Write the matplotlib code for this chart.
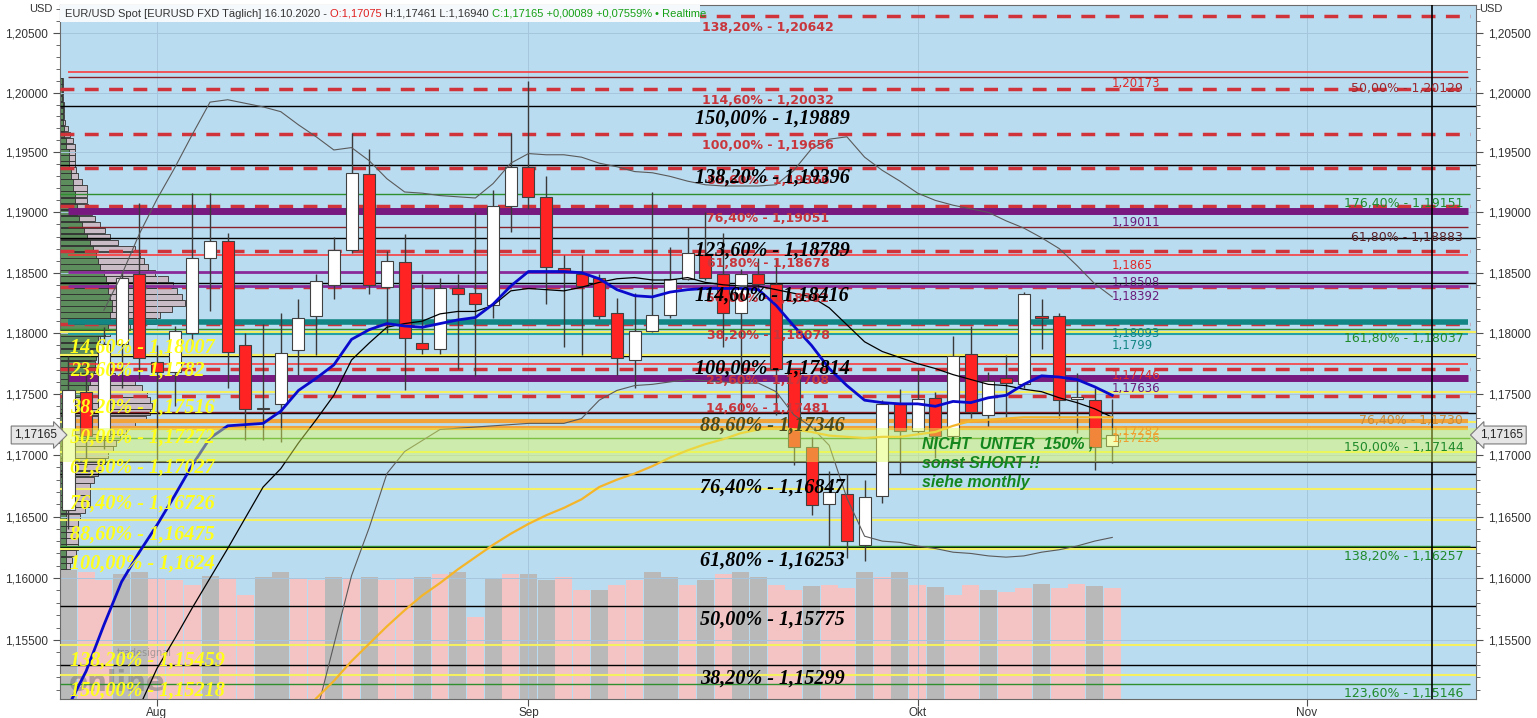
import numpy as np
import matplotlib
matplotlib.use("Agg")
import matplotlib.pyplot as plt
from matplotlib.ticker import FixedLocator, FuncFormatter, NullFormatter
from matplotlib.transforms import blended_transform_factory

# --- daily EUR/USD bars 27.07.2020 - 16.10.2020 (index 0 = 03.08.2020) ---
bar_idx = list(range(-5, 55))
opens = [1.1655, 1.1752, 1.1716, 1.1791, 1.1849,
         1.1776, 1.1768, 1.1800, 1.1862, 1.1876, 1.1790, 1.1738, 1.1742, 1.1786, 1.1814,
         1.1840, 1.1869, 1.1932, 1.1838, 1.1859, 1.1792, 1.1787, 1.1837, 1.1833, 1.1823,
         1.1905, 1.1938, 1.1913, 1.1854, 1.1849, 1.1846, 1.1817, 1.1778, 1.1802, 1.1815,
         1.1845, 1.1865, 1.1849, 1.1817, 1.1849, 1.1841, 1.1771, 1.1707, 1.1660, 1.1668,
         1.1627, 1.1667, 1.1742, 1.1720, 1.1747, 1.1716, 1.1783, 1.1733, 1.1763, 1.1758,
         1.1814, 1.1814, 1.1746, 1.1745, 1.17075]
highs = [1.1781, 1.1776, 1.1805, 1.1850, 1.1908,
         1.1790, 1.1806, 1.1916, 1.1916, 1.1883, 1.1800, 1.1808, 1.1817, 1.1828, 1.1849,
         1.1880, 1.1966, 1.1953, 1.1868, 1.1882, 1.1849, 1.1846, 1.1849, 1.1900, 1.1919,
         1.1966, 1.2010, 1.1930, 1.1865, 1.1865, 1.1849, 1.1829, 1.1833, 1.1917, 1.1871,
         1.1888, 1.1900, 1.1883, 1.1853, 1.1862, 1.1862, 1.1771, 1.1715, 1.1687, 1.1685,
         1.1680, 1.1745, 1.1754, 1.1770, 1.1752, 1.1798, 1.1806, 1.1768, 1.1782, 1.1834,
         1.1828, 1.1817, 1.1767, 1.1755, 1.17461]
lows = [1.1640, 1.1690, 1.1705, 1.1755, 1.1762,
        1.1696, 1.1740, 1.1790, 1.1818, 1.1755, 1.1712, 1.1712, 1.1711, 1.1766, 1.1782,
        1.1828, 1.1866, 1.1832, 1.1800, 1.1753, 1.1783, 1.1783, 1.1771, 1.1765, 1.1813,
        1.1884, 1.1903, 1.1824, 1.1789, 1.1782, 1.1812, 1.1766, 1.1755, 1.1801, 1.1813,
        1.1844, 1.1844, 1.1789, 1.1735, 1.1835, 1.1733, 1.1692, 1.1651, 1.1626, 1.1616,
        1.1614, 1.1661, 1.1685, 1.1718, 1.1698, 1.1710, 1.1730, 1.1724, 1.1731, 1.1755,
        1.1787, 1.1730, 1.1718, 1.1688, 1.16940]
closes = [1.1753, 1.1716, 1.1791, 1.1846, 1.1780,
          1.1768, 1.1802, 1.1862, 1.1876, 1.1785, 1.1738, 1.1739, 1.1784, 1.1813, 1.1843,
          1.1869, 1.1933, 1.1840, 1.1860, 1.1796, 1.1787, 1.1837, 1.1832, 1.1824, 1.1905,
          1.1938, 1.1913, 1.1855, 1.1851, 1.1839, 1.1814, 1.1780, 1.1802, 1.1815, 1.1845,
          1.1866, 1.1846, 1.1817, 1.1849, 1.1841, 1.1771, 1.1707, 1.1659, 1.1670, 1.1630,
          1.1666, 1.1742, 1.1720, 1.1746, 1.1716, 1.1781, 1.1735, 1.1761, 1.1759, 1.1832,
          1.1813, 1.1745, 1.1748, 1.1707, 1.17165]
volume = [129, 127, 119, 125, 127,
          121, 119, 114, 123, 121, 104, 122, 127, 121, 119,
          122, 121, 122, 119, 121, 122, 125, 127, 82, 121,
          125, 125, 119, 122, 109, 109, 114, 119, 127, 122,
          114, 119, 125, 127, 122, 114, 109, 113, 114, 111,
          127, 122, 127, 114, 112, 104, 114, 109, 107, 111,
          115, 111, 115, 113, 111]
volume_pink = [0, 1, 1, 0, 0,
               1, 1, 1, 0, 1, 1, 0, 0, 1, 1,
               0, 1, 0, 1, 1, 0, 1, 0, 1, 0,
               1, 0, 0, 1, 1, 0, 1, 1, 0, 0,
               1, 0, 1, 0, 0, 1, 1, 0, 1, 1,
               0, 1, 0, 1, 0, 1, 1, 0, 1, 1,
               0, 1, 1, 0, 1]

nan = np.nan
ma_blue = [1.1497, 1.1525, 1.1562, 1.1597, 1.1621,
           1.1643, 1.1667, 1.1692, 1.1714, 1.1724, 1.1725, 1.1726, 1.1736, 1.1753, 1.1763,
           1.1774, 1.1795, 1.1803, 1.1808, 1.1806, 1.1805, 1.1808, 1.1811, 1.1813, 1.1824,
           1.1839, 1.1851, 1.1851, 1.1851, 1.1850, 1.1845, 1.1836, 1.1831, 1.1830, 1.1834,
           1.1836, 1.1837, 1.1837, 1.1837, 1.1836, 1.1823, 1.1806, 1.1790, 1.1771, 1.1757,
           1.1745, 1.1743, 1.1742, 1.1742, 1.1740, 1.1744, 1.1743, 1.1747, 1.1749, 1.1758,
           1.1765, 1.1764, 1.1762, 1.1756, 1.1749]
ma_black = [nan, nan, nan, nan, 1.1496,
            1.1527, 1.1551, 1.1576, 1.1600, 1.1624, 1.1649, 1.1674, 1.1689, 1.1710, 1.1729,
            1.1749, 1.1778, 1.1792, 1.1805, 1.1808, 1.1810, 1.1816, 1.1818, 1.1818, 1.1823,
            1.1835, 1.1837, 1.1836, 1.1835, 1.1838, 1.1842, 1.1845, 1.1846, 1.1844, 1.1844,
            1.1846, 1.1842, 1.1840, 1.1839, 1.1839, 1.1836, 1.1833, 1.1830, 1.1821, 1.1807,
            1.1793, 1.1785, 1.1780, 1.1775, 1.1771, 1.1766, 1.1762, 1.1758, 1.1757, 1.1754,
            1.1752, 1.1747, 1.1743, 1.1738, 1.1731]
bb_upper = [nan, nan, 1.1819, 1.1848, 1.1882,
            1.1911, 1.1937, 1.1965, 1.1992, 1.1994, 1.1991, 1.1988, 1.1984, 1.1973, 1.1963,
            1.1952, 1.1954, 1.1943, 1.1928, 1.1917, 1.1916, 1.1914, 1.1913, 1.1912, 1.1924,
            1.1941, 1.1949, 1.1948, 1.1948, 1.1946, 1.1941, 1.1938, 1.1934, 1.1933, 1.1930,
            1.1926, 1.1923, 1.1922, 1.1922, 1.1922, 1.1923, 1.1935, 1.1953, 1.1961, 1.1963,
            1.1946, 1.1935, 1.1926, 1.1916, 1.1910, 1.1906, 1.1903, 1.1900, 1.1893, 1.1887,
            1.1879, 1.1870, 1.1856, 1.1841, 1.1830]
bb_lower = [nan, nan, nan, nan, nan,
            nan, nan, nan, nan, nan, nan, nan, nan, nan, 1.1490,
            1.1546, 1.1602, 1.1641, 1.1685, 1.1703, 1.1712, 1.1721, 1.1722, 1.1723, 1.1724,
            1.1725, 1.1726, 1.1726, 1.1726, 1.1730, 1.1745, 1.1753, 1.1757, 1.1758, 1.1760,
            1.1762, 1.1761, 1.1760, 1.1759, 1.1759, 1.1752, 1.1733, 1.1723, 1.1708, 1.1665,
            1.1634, 1.1630, 1.1629, 1.1626, 1.1624, 1.1621, 1.1620, 1.1618, 1.1617, 1.1618,
            1.1621, 1.1623, 1.1626, 1.1630, 1.1633]
ma_orange = [nan, nan, nan, nan, nan,
             nan, nan, nan, nan, nan, nan, nan, nan, 1.1488, 1.1503,
             1.1517, 1.1533, 1.1547, 1.1561, 1.1574, 1.1586, 1.1596, 1.1607, 1.1617, 1.1627,
             1.1636, 1.1644, 1.1651, 1.1657, 1.1664, 1.1674, 1.1680, 1.1685, 1.1691, 1.1698,
             1.1704, 1.1709, 1.1713, 1.1718, 1.1721, 1.1723, 1.1721, 1.1719, 1.1716, 1.1715,
             1.1714, 1.1715, 1.1715, 1.1717, 1.1719, 1.1724, 1.1728, 1.1729, 1.1730, 1.1731,
             1.1731, 1.1731, 1.1731, 1.1731, 1.1731]

# volume profile (price bins, total and buy part)
profile_price = np.round(np.arange(1.2010, 1.16095, -0.0005), 4)
profile_total = [3, 3, 3, 3, 4, 4, 4, 5, 8, 10, 13, 15, 15, 15, 15, 16, 18, 22, 27, 27,
                 27, 28, 32, 35, 40, 45, 50, 58, 75, 80, 84, 88, 95, 108, 113, 117, 122, 125, 112, 100,
                 96, 70, 50, 40, 36, 33, 31, 30, 36, 55, 75, 82, 87, 90, 92, 90, 86, 75, 66, 60,
                 56, 53, 48, 45, 42, 38, 34, 30, 30, 30, 30, 25, 20, 18, 18, 18, 18, 18, 16, 12, 10]
profile_green = [2, 2, 2, 2, 3, 3, 3, 3, 4, 4, 6, 6, 9, 9, 9, 11, 11, 13, 13, 15,
                 15, 17, 17, 19, 22, 24, 27, 30, 33, 36, 38, 40, 44, 46, 48, 48, 50, 52, 52, 50,
                 50, 48, 45, 38, 38, 37, 36, 35, 34, 33, 30, 28, 20, 12, 10, 10, 10, 8, 8, 8,
                 8, 6, 6, 6, 6, 6, 6, 6, 6, 6, 6, 6, 6, 6, 6, 6, 6, 6, 6, 6, 6]

# fibonacci sets
red_fib = [1.20642, 1.20032, 1.19656, 1.19366, 1.19051, 1.18678, 1.18382, 1.18078, 1.17708, 1.17481]
red_pct = ["138,20%", "114,60%", "100,00%", "88,60%", "76,40%", "61,80%", "50,00%", "38,20%", "23,60%", "14,60%"]
black_fib = [1.19889, 1.19396, 1.18789, 1.18416, 1.17814, 1.17346, 1.16847, 1.16253, 1.15775, 1.15299]
black_pct = ["150,00%", "138,20%", "123,60%", "114,60%", "100,00%", "88,60%", "76,40%", "61,80%", "50,00%", "38,20%"]
yellow_fib = [1.18007, 1.1782, 1.17516, 1.17272, 1.17027, 1.16726, 1.16475, 1.1624, 1.15459, 1.15218]
yellow_pct = ["14,60%", "23,60%", "38,20%", "50,00%", "61,80%", "76,40%", "88,60%", "100,00%", "138,20%", "150,00%"]
green_fib = [1.19151, 1.18037, 1.17144, 1.16257, 1.15146]
green_pct = ["176,40%", "161,80%", "150,00%", "138,20%", "123,60%"]

# hand drawn levels
red_levels = [1.20173, 1.1865, 1.17746]
darkred_levels = [1.20129, 1.18883, 1.17355]
purple_thick = [1.19011, 1.17636]
purple_thin = [1.18508, 1.18392]
teal_levels = [1.18093, 1.1799]
orange_levels = [1.17282, 1.17226]
zone = (1.16945, 1.17226)
last_price = 1.17165
cursor_x = 72.1

month_pos = [0, 21, 43, 65]
month_lab = ["Aug", "Sep", "Okt", "Nov"]

# ------------------------------------------------------------------
W, H = 1537, 718
fig = plt.figure(figsize=(W / 100, H / 100), dpi=100)
fig.patch.set_facecolor("white")
rect = [60 / W, 19 / H, 1416 / W, 694 / H]

ax_v = fig.add_axes(rect)
ax = fig.add_axes(rect, sharex=ax_v)
ax_p = fig.add_axes(rect, sharey=ax)
ax_v.set_zorder(1)
ax_p.set_zorder(2)
ax.set_zorder(3)
ax.patch.set_visible(False)
ax_p.patch.set_visible(False)
ax_v.set_facecolor("#badcf0")

x = np.array(bar_idx)
o, h, l, c = map(np.array, (opens, highs, lows, closes))

# volume
vcol = ["#f4c4c4" if p else "#b9b9b9" for p in volume_pink]
ax_v.bar(x, volume, width=0.96, color=vcol, zorder=1)
ax_v.set_ylim(0, 694)
ax_v.set_xlim(-5.48, 74.56)
for s in ax_v.spines.values():
    s.set_visible(False)
ax_v.tick_params(left=False, labelleft=False, bottom=False, labelbottom=False)

# volume profile
ax_p.set_xlim(0, 1416)
ax_p.barh(profile_price, profile_total, height=0.00048, left=0, color="#c9bcc6",
          edgecolor="#303030", linewidth=0.6)
ax_p.barh(profile_price, profile_green, height=0.00048, left=0, color="#5d8d5d",
          edgecolor="#303030", linewidth=0.6)
ax_p.axis("off")

# price axis
ax.set_yscale("log")
ax.set_ylim(1.15025, 1.20736)
ax.set_xlim(-5.48, 74.56)
ax.set_axisbelow(True)
ax.grid(True, color="#a6c6de", lw=0.7)

L0, L1 = -5.0, 74.1
lkw = dict(xmin=L0, xmax=L1)
ax.hlines(black_fib, -5.48, 74.56, color="black", lw=1, zorder=3)
ax.hlines(yellow_fib, -5.48, 74.56, color="#f4f060", lw=1.5, zorder=3)
ax.hlines(green_fib, -5.48, 74.2, color="#2f8f2f", lw=1, zorder=3)
ax.hlines(red_fib, -5.48, 74.2, color="#d0343a", lw=2.5, linestyles=(0, (4, 3)), zorder=3)
ax.hlines(red_levels, color="#ff3030", lw=1.1, zorder=3, **lkw)
ax.hlines(darkred_levels, color="#8a2028", lw=1, zorder=3, **lkw)
ax.hlines(purple_thick, color="#77197f", lw=5, zorder=3, **lkw)
ax.hlines(purple_thin, color="#8a2a9a", lw=2, zorder=3, **lkw)
ax.hlines(teal_levels[0], color="#128585", lw=4, zorder=3, **lkw)
ax.hlines(teal_levels[1], color="#22a0a6", lw=1.5, zorder=3, **lkw)
ax.hlines(orange_levels, color="#f2a43a", lw=3, zorder=3, **lkw)
ax.hlines(zone[0], -5.48, 74.56, color="#404040", lw=1.5, zorder=3)
ax.axvline(cursor_x, color="black", lw=1.2, zorder=3)

# candles
up = c >= o
body_lo = np.minimum(o, c)
body_h = np.maximum(np.abs(c - o), 0.00004)
ax.vlines(x, l, h, color="#3a3a3a", lw=1, zorder=4)
ax.bar(x, body_h, bottom=body_lo, width=0.68,
       color=np.where(up, "#ffffff", "#ff2323"), edgecolor="#404040", lw=0.8, zorder=5)

# indicators
ax.plot(x, bb_upper, color="#5a5a5a", lw=0.8, zorder=6)
ax.plot(x, bb_lower, color="#5a5a5a", lw=0.8, zorder=6)
ax.plot(x, ma_black, color="black", lw=0.9, zorder=6)
ax.plot(x, ma_orange, color="#f5b52a", lw=1.6, zorder=6)
ax.plot(x, ma_blue, color="#0a0acc", lw=2, zorder=6)

# shaded zone over everything
ax.axhspan(zone[0], zone[1], color="#e2ff5a", alpha=0.45, lw=0, zorder=7)

# axis ticks
ax.yaxis.set_major_locator(FixedLocator([1.155, 1.16, 1.165, 1.17, 1.175, 1.18, 1.185,
                                         1.19, 1.195, 1.2, 1.205]))
ax.yaxis.set_major_formatter(FuncFormatter(lambda v, p: f"{v:.5f}".replace(".", ",")))
ax.yaxis.set_minor_locator(FixedLocator(np.arange(1.151, 1.2075, 0.001)))
ax.yaxis.set_minor_formatter(NullFormatter())
ax.tick_params(axis="y", which="both", left=True, right=True, labelleft=True,
               labelright=True, direction="out", colors="#505050", labelcolor="#333333",
               labelsize=8.5)
ax.tick_params(axis="y", which="major", length=5)
ax.tick_params(axis="y", which="minor", length=3)
ax.set_xticks(month_pos)
ax.set_xticklabels(month_lab)
ax.tick_params(axis="x", length=5, colors="#505050", labelcolor="#333333", labelsize=8.5, pad=1)
for lab in ax.get_yticklabels():
    lab.set_family("Liberation Sans")
for lab in ax.get_xticklabels():
    lab.set_family("Liberation Sans")
for s in ax.spines.values():
    s.set_color("#6a6a6a")

# labels
tr = blended_transform_factory(ax.transAxes, ax.transData)


def fmt(v):
    return f"{v}".replace(".", ",")


def lab(xf, yv, s, dy, **kw):
    ax.annotate(s, (xf, yv), xycoords=tr, xytext=(0, dy), textcoords="offset points",
                va="center", zorder=8, annotation_clip=False, **kw)


for v, p in zip(red_fib, red_pct):
    lab(0.50, v, f"{p} - {fmt(v)}", -8.5, ha="center", color="#c8363c", fontsize=9,
        fontweight="bold", family="DejaVu Sans")
for v, p in zip(black_fib, black_pct):
    col = "#4c4a1c" if p == "88,60%" else "black"
    lab(0.503, v, f"{p} - {fmt(v)}", -9.5, ha="center", color=col, fontsize=14.5,
        fontweight="bold", fontstyle="italic", family="Liberation Serif")
for v, p in zip(yellow_fib, yellow_pct):
    lab(0.007, v, f"{p} - {fmt(v)}", -11, ha="left", color="#ffff1a", fontsize=14.5,
        fontweight="bold", fontstyle="italic", family="Liberation Serif")
for v, p in zip(green_fib, green_pct):
    lab(0.991, v, f"{p} - {fmt(v)}", -7, ha="right", color="#1f8a2a", fontsize=9,
        family="DejaVu Sans")

small = [(1.20173, "#e02828"), (1.19011, "#6a1b7a"), (1.1865, "#e02828"), (1.18508, "#6a1b7a"),
         (1.18392, "#6a1b7a"), (1.18093, "#128585"), (1.1799, "#128585"), (1.17746, "#e02828"),
         (1.17636, "#6a1b7a"), (1.17282, "#f0a030"), (1.17226, "#f0a030")]
for v, col in small:
    lab(0.743, v, fmt(v), -8, ha="left", color=col, fontsize=8.5, family="DejaVu Sans")
lab(0.991, 1.20129, "50,00% - 1,20129", -8, ha="right", color="#9a2a30", fontsize=9,
    family="DejaVu Sans")
lab(0.991, 1.18883, "61,80% - 1,18883", -8, ha="right", color="#5a2026", fontsize=9,
    family="DejaVu Sans")
lab(0.991, 1.17282, "76,40% - 1,1730", 0, ha="right", color="#c88a3a", fontsize=9,
    family="DejaVu Sans")

# comment text
for i, s in enumerate(["NICHT  UNTER  150% ,", "sonst SHORT !!", "siehe monthly"]):
    ax.text(0.609, 0.367 - i * 0.0275, s, transform=ax.transAxes, color="#14861e",
            fontsize=11.5, fontweight="bold", fontstyle="italic", family="Liberation Sans",
            va="center", ha="left", zorder=9)

# current price tags
for xf, style, ha in [(-0.002, "rarrow,pad=0.25", "right"), (1.003, "larrow,pad=0.25", "left")]:
    ax.annotate(fmt(last_price), (xf, last_price), xycoords=tr, ha=ha, va="center",
                fontsize=8.5, color="#222222", family="Liberation Sans", annotation_clip=False,
                bbox=dict(boxstyle=style, fc="#e6e6e6", ec="#7a7a7a", lw=0.8), zorder=10)

# header
ax.add_patch(plt.Rectangle((0, 1 - 17 / 694), 640 / 1416, 17 / 694, transform=ax.transAxes,
                           fc="#f6f9fc", ec="none", zorder=9))
renderer = fig.canvas.get_renderer()
parts = [("EUR/USD Spot [EURUSD FXD Täglich] 16.10.2020 - ", "#333333"),
         ("O:1,17075 ", "#e02020"), ("H:1,17461 L:1,16940 ", "#333333"),
         ("C:1,17165 +0,00089 +0,07559% ", "#16a016"), ("• Realtime", "#16a016")]
xpos = 65 / W
for s, col in parts:
    t = fig.text(xpos, 1 - 14 / H, s, color=col, fontsize=8, va="center", ha="left",
                 family="Liberation Sans", zorder=10)
    xpos += t.get_window_extent(renderer=renderer).width / W
fig.text(52 / W, 1 - 9 / H, "USD", fontsize=8, color="#333333", ha="right", va="center",
         family="Liberation Sans")
fig.text(1479 / W, 1 - 9 / H, "USD", fontsize=8, color="#333333", ha="left", va="center",
         family="Liberation Sans")

# watermark
ax.text(0.006, 0.012, "online", transform=ax.transAxes, fontsize=20, fontweight="bold",
        color="#7a7a7a", alpha=0.55, family="DejaVu Sans", zorder=2)
ax.text(0.04, 0.062, "tradesignal", transform=ax.transAxes, fontsize=7, color="#7a7a7a",
        alpha=0.6, family="DejaVu Sans", zorder=2)

fig.savefig("out.png", dpi=100, facecolor="white")
